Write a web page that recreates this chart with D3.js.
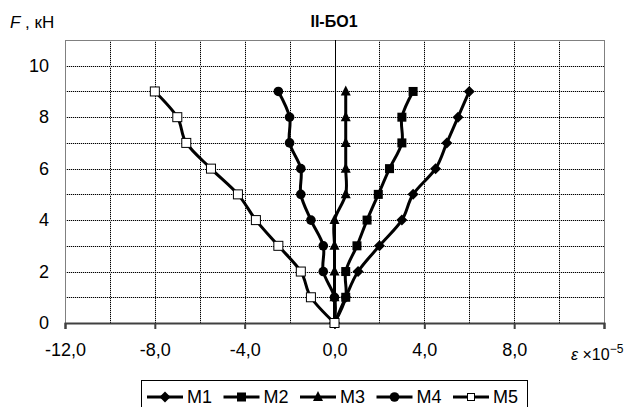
<!DOCTYPE html>
<html>
<head>
<meta charset="utf-8">
<script src="https://cdn.jsdelivr.net/npm/d3@7"></script>
<style>
  body { margin: 0; background: #fff; }
  svg { display: block; font-family: "Liberation Sans", Arial, sans-serif; }
</style>
</head>
<body>
<svg id="chart" width="634" height="407"></svg>
<script>
// нагрузка F, кН
const loads = [0, 1, 2, 3, 4, 5, 6, 7, 8, 9];
// деформации по точкам M1..M5 (x10^-5)
const m1 = [0, 0.5, 1.05, 2.0, 3.0, 3.5, 4.5, 5.0, 5.5, 6.0];
const m2 = [0, 0.5, 0.5, 1.0, 1.45, 1.95, 2.45, 3.0, 3.0, 3.5];
const m3 = [0, 0, 0, 0, 0, 0.5, 0.5, 0.5, 0.5, 0.5];
const m4 = [0, 0, -0.5, -0.5, -1.05, -1.5, -1.5, -2.0, -2.0, -2.5];
const m5 = [0, -1.05, -1.5, -2.5, -3.5, -4.3, -5.5, -6.6, -7.0, -8.0];
const seriesNames = ["M1", "M2", "M3", "M4", "M5"];
const seriesValues = [m1, m2, m3, m4, m5];
const markerTypes = ["diamond", "square", "triangle", "circle", "openSquare"];
const xTicks = [-12, -8, -4, 0, 4, 8, 12];
const xTickLabels = ["-12,0", "-8,0", "-4,0", "0,0", "4,0", "8,0", ""];
const xGrid = d3.range(-12, 12.1, 2);
const yTicks = [0, 2, 4, 6, 8, 10];
const yGrid = d3.range(0, 11.1, 1);

const svg = d3.select("#chart");
const area = { left: 65, right: 604, top: 40, bottom: 323 };

const scX = d3.scaleLinear().domain([-12, 12]).range([area.left, area.right]);
const scY = d3.scaleLinear().domain([0, 11]).range([area.bottom, area.top]);

// сетка
const grid = svg.append("g");
grid.selectAll(".gx").data(xGrid).enter().append("line")
    .attr("x1", d => Math.round(scX(d)) + 0.5).attr("x2", d => Math.round(scX(d)) + 0.5)
    .attr("y1", area.top).attr("y2", area.bottom)
    .style("stroke", "#c0c0c0").style("stroke-width", 1);
grid.selectAll(".gx2").data(xGrid).enter().append("line")
    .attr("x1", d => Math.round(scX(d)) + 0.5).attr("x2", d => Math.round(scX(d)) + 0.5)
    .attr("y1", area.top).attr("y2", area.bottom)
    .style("stroke", "#000").style("stroke-width", 1).style("stroke-dasharray", "1,1");
grid.selectAll(".gy").data(yGrid).enter().append("line")
    .attr("x1", area.left).attr("x2", area.right)
    .attr("y1", d => Math.round(scY(d)) + 0.5).attr("y2", d => Math.round(scY(d)) + 0.5)
    .style("stroke", "#c0c0c0").style("stroke-width", 1);
grid.selectAll(".gy2").data(yGrid).enter().append("line")
    .attr("x1", area.left).attr("x2", area.right)
    .attr("y1", d => Math.round(scY(d)) + 0.5).attr("y2", d => Math.round(scY(d)) + 0.5)
    .style("stroke", "#000").style("stroke-width", 1).style("stroke-dasharray", "1,1");

// рамка
svg.append("rect")
    .attr("x", area.left + 0.5).attr("y", area.top + 0.5)
    .attr("width", area.right - area.left).attr("height", area.bottom - area.top)
    .style("fill", "none").style("stroke", "#808080").style("stroke-width", 1);

// вертикальная ось в нуле
svg.append("line")
    .attr("x1", Math.round(scX(0)) + 0.5).attr("x2", Math.round(scX(0)) + 0.5)
    .attr("y1", area.top).attr("y2", area.bottom)
    .style("stroke", "#000").style("stroke-width", 1);

// ось X
const axisX = d3.axisBottom(scX).tickValues(xTicks).tickSize(6).tickPadding(14)
    .tickFormat((d, i) => xTickLabels[i]);
const gx = svg.append("g")
    .attr("transform", `translate(0, ${area.bottom})`)
    .call(axisX);
gx.select(".domain").style("stroke", "#404040").style("stroke-width", 2);
gx.selectAll(".tick line").style("stroke", "#404040").style("stroke-width", 2);
gx.selectAll("text").style("font-size", "18px").style("fill", "#000")
    .style("font-family", "Liberation Sans, Arial, sans-serif");

// ось Y (только подписи)
const axisY = d3.axisLeft(scY).tickValues(yTicks).tickSize(0).tickPadding(16);
const gy = svg.append("g")
    .attr("transform", `translate(${area.left}, 0)`)
    .call(axisY);
gy.select(".domain").remove();
gy.selectAll("text").style("font-size", "18px").style("fill", "#000")
    .style("font-family", "Liberation Sans, Arial, sans-serif");

// заголовки
svg.append("text").attr("x", 334).attr("y", 27).attr("text-anchor", "middle")
    .style("font-size", "16px").style("font-weight", "bold").text("II-БО1");
const fLabel = svg.append("text").attr("x", 10).attr("y", 28).style("font-size", "17px");
fLabel.append("tspan").style("font-style", "italic").text("F");
fLabel.append("tspan").text(" , кН");
const eLabel = svg.append("text").attr("x", 571).attr("y", 360).style("font-size", "16px");
eLabel.append("tspan").style("font-style", "italic").text("ε");
eLabel.append("tspan").text(" ×10");
eLabel.append("tspan").attr("dy", -7).style("font-size", "12px").text("−5");

// маркеры
function drawMarker(g, type, x, y) {
    if (type === "diamond") {
        g.append("path").attr("d", `M${x},${y - 5.5}L${x + 5.5},${y}L${x},${y + 5.5}L${x - 5.5},${y}Z`)
            .style("fill", "#000");
    } else if (type === "square") {
        g.append("rect").attr("x", x - 4.5).attr("y", y - 4.5).attr("width", 9).attr("height", 9)
            .style("fill", "#000");
    } else if (type === "triangle") {
        g.append("path").attr("d", `M${x},${y - 6}L${x + 5},${y + 4}L${x - 5},${y + 4}Z`)
            .style("fill", "#000");
    } else if (type === "circle") {
        g.append("circle").attr("cx", x).attr("cy", y).attr("r", 4.8).style("fill", "#000");
    } else {
        g.append("rect").attr("x", x - 4.5).attr("y", y - 4.5).attr("width", 9).attr("height", 9)
            .style("fill", "#fff").style("stroke", "#000").style("stroke-width", 1);
    }
}

const line = d3.line()
    .x(d => scX(d[0]))
    .y(d => scY(d[1]))
    .curve(d3.curveCardinal.tension(0));

seriesValues.forEach((vals, i) => {
    const pts = vals.map((v, j) => [v, loads[j]]);
    svg.append("path").datum(pts)
        .attr("d", line)
        .style("fill", "none").style("stroke", "#000").style("stroke-width", 3);
});
seriesValues.forEach((vals, i) => {
    const g = svg.append("g");
    vals.forEach((v, j) => drawMarker(g, markerTypes[i], scX(v), scY(loads[j])));
});

// легенда
const leg = svg.append("g");
leg.append("rect").attr("x", 141.5).attr("y", 380.5).attr("width", 386).attr("height", 40)
    .style("fill", "#fff").style("stroke", "#000").style("stroke-width", 1);
const legStep = 76.5;
seriesNames.forEach((name, i) => {
    const x0 = 147 + i * legStep;
    const cy = 397;
    leg.append("line").attr("x1", x0).attr("x2", x0 + 36).attr("y1", cy).attr("y2", cy)
        .style("stroke", "#000").style("stroke-width", 3);
    const g = leg.append("g");
    if (markerTypes[i] === "openSquare") {
        g.append("rect").attr("x", x0 + 18 - 3.5).attr("y", cy - 3.5).attr("width", 7).attr("height", 7)
            .style("fill", "#fff").style("stroke", "#000").style("stroke-width", 1);
    } else {
        drawMarker(g, markerTypes[i], x0 + 18, cy);
    }
    leg.append("text").attr("x", x0 + 40).attr("y", cy + 6)
        .style("font-size", "18px").text(name);
});
</script>
</body>
</html>
